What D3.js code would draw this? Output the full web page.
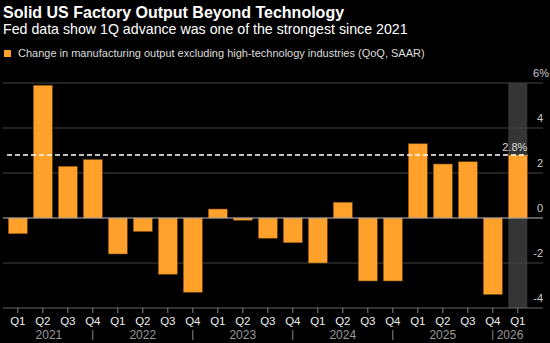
<!DOCTYPE html>
<html>
<head>
<meta charset="utf-8">
<script src="https://cdn.jsdelivr.net/npm/d3@7"></script>
<style>
  body { margin: 0; background: #000; }
  svg { display: block; background: #000; font-family: "Liberation Sans", Arial, sans-serif; }
</style>
</head>
<body>
<div id="vis"></div>
<script>
// quarters 2021 Q1 .. 2026 Q1
var quarters = ["Q1","Q2","Q3","Q4","Q1","Q2","Q3","Q4","Q1","Q2","Q3","Q4","Q1","Q2","Q3","Q4","Q1","Q2","Q3","Q4","Q1"];
var years = ["2021","2022","2023","2024","2025","2026"];
var values = [-0.7, 5.9, 2.3, 2.6, -1.6, -0.6, -2.5, -3.3, 0.4, -0.1, -0.9, -1.1, -2.0, 0.7, -2.8, -2.8, 3.3, 2.4, 2.5, -3.4, 2.8];
var yTicks = [-4, -2, 0, 2, 4, 6];
var latest = 2.8;

var W = 550, H = 343;
var svg = d3.select("#vis").append("svg").attr("width", W).attr("height", H);

var idx = d3.range(values.length);
var x = d3.scaleBand().domain(idx).range([5.3, 530.3]).paddingInner(0.24).paddingOuter(0.12);
var y = d3.scaleLinear().domain([-4, 6]).range([308, 83]);

// titles
svg.append("text").attr("x", 3).attr("y", 18)
  .attr("fill", "#fff").attr("font-weight", "bold").attr("font-size", 16)
  .text("Solid US Factory Output Beyond Technology");
svg.append("text").attr("x", 3).attr("y", 34)
  .attr("fill", "#fff").attr("font-size", 14.2)
  .text("Fed data show 1Q advance was one of the strongest since 2021");

// legend
svg.append("rect").attr("x", 4).attr("y", 50).attr("width", 7).attr("height", 7).attr("fill", "#ffa12b");
svg.append("text").attr("x", 18).attr("y", 57)
  .attr("fill", "#ddd").attr("font-size", 11)
  .text("Change in manufacturing output excluding high-technology industries (QoQ, SAAR)");

// highlight latest quarter
var last = idx[idx.length - 1];
svg.append("rect")
  .attr("x", x(last)).attr("width", x.bandwidth())
  .attr("y", y(6)).attr("height", y(-4) - y(6))
  .attr("fill", "#353535");

// gridlines
svg.selectAll(".grid").data(yTicks.filter(function(d){ return d != 0; })).enter()
  .append("line").attr("class", "grid")
  .attr("x1", 3).attr("x2", 543)
  .attr("y1", function(d){ return y(d); }).attr("y2", function(d){ return y(d); })
  .attr("stroke", function(d){ return d == -4 ? "#666" : "#444"; }).attr("stroke-width", 1);

// bars
svg.selectAll(".bar").data(values).enter()
  .append("rect").attr("class", "bar")
  .attr("x", function(d, i){ return x(i); })
  .attr("width", x.bandwidth())
  .attr("y", function(d){ return y(Math.max(0, d)); })
  .attr("height", function(d){ return Math.abs(y(d) - y(0)); })
  .attr("fill", "#ffa12b")
  .attr("stroke", "#7a4a10").attr("stroke-width", 0.6);

// zero line
svg.append("line").attr("x1", 3).attr("x2", 543)
  .attr("y1", y(0)).attr("y2", y(0))
  .attr("stroke", "#bbb").attr("stroke-width", 1);

// latest value dashed line
svg.append("line").attr("x1", 7).attr("x2", x(last) + x.bandwidth())
  .attr("y1", y(latest)).attr("y2", y(latest))
  .attr("stroke", "#fff").attr("stroke-width", 1.3).attr("stroke-dasharray", "5,3");
svg.append("text").attr("x", x(last) + x.bandwidth()).attr("y", y(latest) - 4)
  .attr("text-anchor", "end").attr("fill", "#ddd").attr("font-size", 11)
  .text(latest + "%");

// right axis labels
svg.selectAll(".ylab").data(yTicks).enter()
  .append("text").attr("class", "ylab")
  .attr("x", function(d){ return d == 6 ? 549 : 543; })
  .attr("y", function(d){ return y(d) - 6; })
  .attr("text-anchor", "end")
  .attr("fill", "#ccc").attr("font-size", 11)
  .text(function(d){ return d == 6 ? d + "%" : d; });

// bottom ticks + quarter labels
var cx = function(i){ return x(i) + x.bandwidth() / 2; };
svg.selectAll(".tick").data(idx).enter()
  .append("line").attr("class", "tick")
  .attr("x1", cx).attr("x2", cx).attr("y1", 308).attr("y2", 313)
  .attr("stroke", "#888");
svg.selectAll(".qlab").data(quarters).enter()
  .append("text").attr("class", "qlab")
  .attr("x", function(d, i){ return cx(i); }).attr("y", 325)
  .attr("text-anchor", "middle").attr("fill", "#eee").attr("font-size", 11.5)
  .text(function(d){ return d; });

// year separators at each Q4, year labels between them
var seps = idx.filter(function(i){ return quarters[i] == "Q4"; }).map(cx);
svg.selectAll(".sep").data(seps).enter()
  .append("line").attr("class", "sep")
  .attr("x1", function(d){ return d; }).attr("x2", function(d){ return d; })
  .attr("y1", 330).attr("y2", 340)
  .attr("stroke", "#888");
var bounds = [5].concat(seps).concat([x(last) + x.bandwidth()]);
svg.selectAll(".ylabel").data(years).enter()
  .append("text").attr("class", "ylabel")
  .attr("x", function(d, i){ return (bounds[i] + bounds[i + 1]) / 2; })
  .attr("y", 339).attr("text-anchor", "middle")
  .attr("fill", "#999").attr("font-size", 12)
  .text(function(d){ return d; });
</script>
</body>
</html>
